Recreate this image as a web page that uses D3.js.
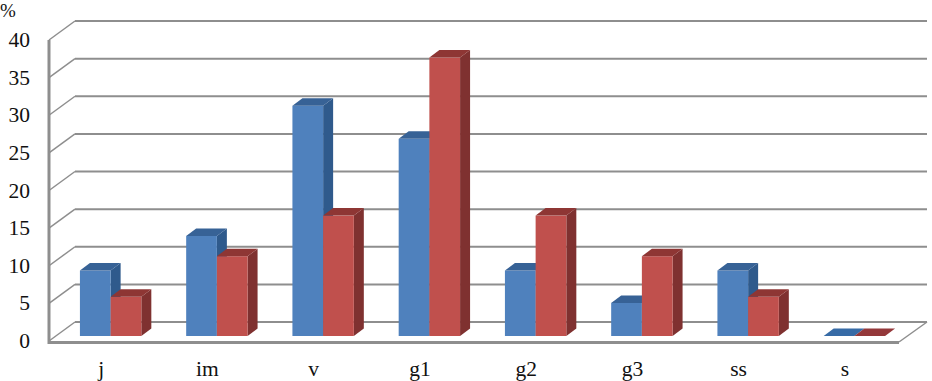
<!DOCTYPE html>
<html>
<head>
<meta charset="utf-8">
<script src="https://cdn.jsdelivr.net/npm/d3@7/dist/d3.min.js"></script>
<style>
html,body{margin:0;padding:0;background:#fff;}
svg{display:block;}
text{font-family:"Liberation Serif",serif;fill:#111;}
</style>
</head>
<body>
<svg id="chart" width="932" height="381"></svg>
<script>
const categories = ["j","im","v","g1","g2","g3","ss","s"];
const seriesA = [8.7,13.3,30.6,26.2,8.7,4.4,8.7,0];
const seriesB = [5.2,10.6,16,37,16,10.6,5.2,0];
const yTicks = [0,5,10,15,20,25,30,35,40];

const svg = d3.select("#chart");
const gridColor = "#8e8e8e";
const depthX = 26, depthY = 19;
const barDepthX = 10, barDepthY = 7.5, barShiftX = 8.5, barBaseLift = 5;

const x = d3.scaleBand().domain(categories).range([49,899]);
const y = d3.scaleLinear().domain([0,40]).range([341,40]);

// back wall gridlines and wall diagonals
svg.append("g").selectAll("line.grid").data(yTicks).join("line")
  .attr("x1",49+depthX).attr("x2",927)
  .attr("y1",d=>y(d)-depthY).attr("y2",d=>y(d)-depthY)
  .attr("stroke",gridColor).attr("stroke-width",2);
svg.append("g").selectAll("line.diag").data(yTicks).join("line")
  .attr("x1",49).attr("x2",49+depthX)
  .attr("y1",d=>y(d)).attr("y2",d=>y(d)-depthY)
  .attr("stroke",gridColor).attr("stroke-width",1.5);
svg.append("line").attr("x1",899).attr("x2",927)
  .attr("y1",y(0)+1).attr("y2",y(0)-depthY)
  .attr("stroke",gridColor).attr("stroke-width",1.5);

// front axis frame
svg.append("path")
  .attr("d",`M49,${y(40)}V${y(0)+1.5}H899`)
  .attr("fill","none").attr("stroke",gridColor).attr("stroke-width",3);

// bars
const series = [
  {values:seriesA,front:"#4f81bd",top:"#376296",side:"#2f5a8c",offset:0},
  {values:seriesB,front:"#c0504d",top:"#8e3634",side:"#7f3130",offset:1}
];
const barW = 30.7;
const polygon = pts => "M"+pts.map(p=>p.join(",")).join("L")+"Z";
categories.forEach((c,i)=>{
  const groupLeft = x(c)+x.bandwidth()/2-barW+barShiftX;
  series.forEach(s=>{
    const v = s.values[i];
    const x0 = groupLeft+s.offset*barW, x1 = x0+barW;
    const yb = y(0)-barBaseLift, yt = y(v)-barBaseLift;
    const g = svg.append("g");
    if(v>0){
      g.append("path").attr("fill",s.side)
       .attr("d",polygon([[x1,yt],[x1+barDepthX,yt-barDepthY],[x1+barDepthX,yb-barDepthY],[x1,yb]]));
      g.append("rect").attr("fill",s.front)
       .attr("x",x0).attr("y",yt).attr("width",barW).attr("height",yb-yt);
    }
    g.append("path").attr("fill",v>0?s.top:s.front==="#4f81bd"?"#376ba6":"#94383a")
     .attr("d",polygon([[x0,yt],[x0+barDepthX,yt-barDepthY],[x1+barDepthX,yt-barDepthY],[x1,yt]]));
  });
});

// tick labels
svg.append("g").selectAll("text").data(yTicks).join("text")
  .attr("x",30).attr("y",d=>y(d)+7).attr("text-anchor","end")
  .attr("font-size",21.5).text(d=>d);
svg.append("g").selectAll("text").data(categories).join("text")
  .attr("x",d=>x(d)+x.bandwidth()/2-1).attr("y",376).attr("text-anchor","middle")
  .attr("font-size",21.5).text(d=>d);
svg.append("text").attr("x",0).attr("y",17).attr("font-size",19).text("%");
</script>
</body>
</html>
